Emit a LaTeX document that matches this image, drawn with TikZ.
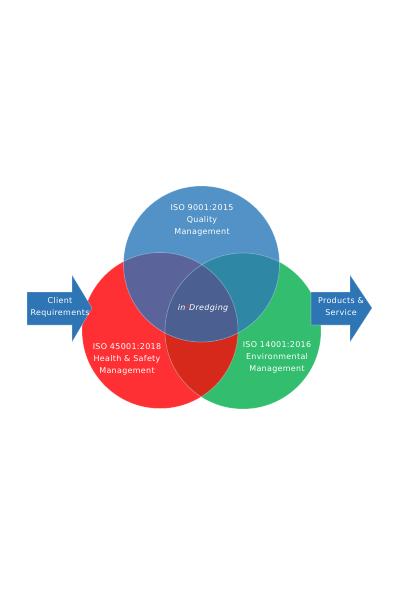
\documentclass[tikz,border=0pt]{standalone}
\usepackage{fontspec}
\setmainfont{DejaVu Sans}
\newfontfamily\isofont[LetterSpace=4]{DejaVu Sans}
\usepackage{tikz}

\definecolor{qualityblue}{RGB}{82,146,198}
\definecolor{safetyred}{RGB}{255,48,52}
\definecolor{envigroup}{RGB}{50,190,110}
\definecolor{redgreen}{RGB}{215,40,28}
\definecolor{bluered}{RGB}{90,100,155}
\definecolor{bluegreen}{RGB}{45,135,165}
\definecolor{coreblue}{RGB}{75,95,145}
\definecolor{arrowblue}{RGB}{46,117,182}

\begin{document}
\begin{tikzpicture}[x=1bp,y=1bp,
  isotext/.style={text=white,font=\isofont\fontsize{8}{12}\selectfont,align=center},
  rim/.style={draw=white,draw opacity=0.3,line width=0.7bp},
  arrowbox/.style={fill=arrowblue,draw=white,draw opacity=0.3,line width=0.6bp}]
\useasboundingbox (0,0) rectangle (400,-600);

  \fill [safetyred] (160,-330.5) circle [radius=78bp];
  \fill [envigroup] (243,-331) circle [radius=78bp];
  \begin{scope}
    \clip (160,-330.5) circle [radius=78bp];
    \fill [redgreen] (243,-331) circle [radius=78bp];
  \end{scope}
  \fill [qualityblue] (201.5,-264) circle [radius=78bp];
  \begin{scope}
    \clip (201.5,-264) circle [radius=78bp];
    \fill [bluered] (160,-330.5) circle [radius=78bp];
    \fill [bluegreen] (243,-331) circle [radius=78bp];
    \clip (160,-330.5) circle [radius=78bp];
    \fill [coreblue] (243,-331) circle [radius=78bp];
  \end{scope}
  \draw [rim] (160,-330.5) circle [radius=78bp];
  \draw [rim] (243,-331) circle [radius=78bp];
  \draw [rim] (201.5,-264) circle [radius=78bp];

  \draw [arrowbox] (27,-292) -- (72,-292) -- (72,-275) -- (92,-308)
    -- (72,-342) -- (72,-325) -- (27,-325) -- cycle;
  \draw [arrowbox] (311,-292) -- (350,-292) -- (350,-275) -- (372,-308)
    -- (350,-342) -- (350,-325) -- (311,-325) -- cycle;

  \node [isotext] (quality) at (202,-220.5) {ISO 9001:2015\\Quality\\Management};
  \node [isotext] (safety) at (127,-359.5) {ISO 45001:2018\\Health \& Safety\\Management};
  \node [isotext] (enviro) at (277,-357) {ISO 14001:2016\\Environmental\\Management};
  \node [isotext] (core) at (203,-308) {\itshape in\raisebox{2.5bp}{\fontsize{6}{6}\selectfont\color{safetyred}2}Dredging};
  \node [isotext] (client) at (60,-307) {Client\\Requirements};
  \node [isotext] (product) at (341,-307) {Products \&\\Service};
\end{tikzpicture}
\end{document}
